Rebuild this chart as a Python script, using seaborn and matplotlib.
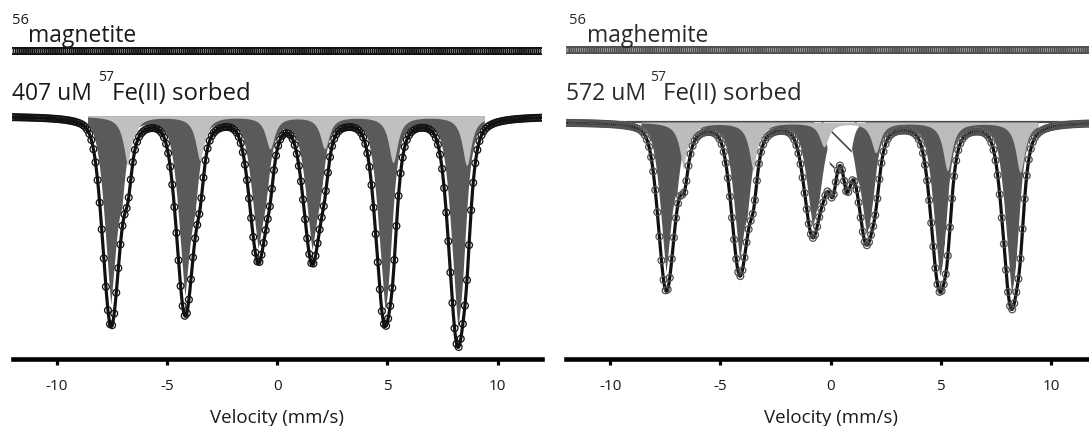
import numpy as np
import matplotlib
matplotlib.use("Agg")
import matplotlib.pyplot as plt
import matplotlib.patheffects as pe
import seaborn as sns

sns.set_theme(style="white")
plt.rcParams['font.family'] = ['Open Sans', 'DejaVu Sans']
plt.rcParams['hatch.linewidth'] = 1.1

# ---------------- data ----------------
# velocity channels of the spectrometer (mm/s)
N_CHANNELS = 256
V_RANGE = (-12.0, 12.0)

# left panel: 56-magnetite + 407 uM 57Fe(II)   (depths in % absorption)
left_dark_pos = [-7.53, -4.17, -0.86, 1.59, 4.87, 8.18]
left_dark_depth = [10.20, 9.60, 6.85, 6.95, 9.65, 10.80]
left_dark_fwhm = 0.90
left_light_pos = [-6.76, -3.49, -0.32, 2.16, 5.26, 8.60]
left_light_depth = [2.45, 2.20, 1.60, 1.60, 2.30, 2.45]
left_light_fwhm = 0.50

# right panel: 56-maghemite + 572 uM 57Fe(II)
right_dark_pos = [-7.45, -4.12, -0.82, 1.62, 4.92, 8.18]
right_dark_depth = [8.20, 7.25, 5.30, 5.50, 7.60, 8.60]
right_dark_fwhm = 0.86
right_light_pos = [-6.63, -3.49, -0.30, 2.05, 5.30, 8.60]
right_light_depth = [2.40, 2.40, 1.20, 1.50, 2.40, 2.50]
right_light_fwhm = 0.50
right_doublet_pos = [0.10, 0.74]
right_doublet_depth = [2.60, 2.55]
right_doublet_fwhm = 0.46

ETA_DARK = 0.30                # Lorentzian fraction of the line shapes
ETA_LIGHT = 1.00
ETA_DOUBLET = 0.50
FILL_RANGE = (-8.6, 9.4)       # velocity span of the shaded sub-spectra
ref_offset = [3.25, 3.6]       # vertical offset of the 56Fe reference spectra (%)

tick_values = [-10, -5, 0, 5, 10]
tick_labels = ["-10", "-5", "0", "5", "10"]

v = np.linspace(V_RANGE[0], V_RANGE[1], N_CHANNELS)
vf = np.linspace(V_RANGE[0], V_RANGE[1], 2400)


def line_shape(x, c, fwhm, eta):
    g = fwhm / 2.0
    lor = 1.0 / (1.0 + ((x - c) / g) ** 2)
    s = fwhm / (2.0 * np.sqrt(2.0 * np.log(2.0)))
    gau = np.exp(-0.5 * ((x - c) / s) ** 2)
    return eta * lor + (1 - eta) * gau


def component(x, pos, depth, fwhm, eta):
    out = np.zeros_like(x)
    for c, d in zip(pos, depth):
        out += d * line_shape(x, c, fwhm, eta)
    return out


W, H = 1089, 426
fig = plt.figure(figsize=(W / 100, H / 100), dpi=100)

ppu = 22.05     # pixels per mm/s
axis_y = 359    # pixel row of x axis line (from top)
k = 0.05        # % per pixel


def make_axes(left_px, baseline_px):
    ax = fig.add_axes([left_px / W, (H - axis_y) / H, 24 * ppu / W, axis_y / H])
    ax.set_xlim(-12, 12)
    ax.set_ylim(100 - (axis_y - baseline_px) * k, 100 + baseline_px * k)
    ax.set_facecolor('none')
    for s in ['left', 'right', 'top']:
        ax.spines[s].set_visible(False)
    ax.spines['bottom'].set_linewidth(3.3)
    ax.spines['bottom'].set_color('black')
    ax.set_yticks([])
    ax.set_xticks(tick_values)
    ax.set_xticklabels(tick_labels)
    ax.tick_params(axis='x', direction='out', length=4.5, width=2.3, color='black',
                   pad=10, labelsize=11, labelcolor='#1a1a1a', bottom=True)
    ax.set_xlabel("Velocity (mm/s)", fontsize=13.5, color='#1a1a1a', labelpad=11)
    return ax


def draw_panel(ax, dark, light, refoff, circ_col, dbl=None,
               dark_col='#5a5a5a', light_col='#c0c0c0', baseline_line=False):
    dark_f = component(vf, *dark, ETA_DARK)
    light_f = component(vf, *light, ETA_LIGHT)
    total_f = dark_f + light_f
    total_d = component(v, *dark, ETA_DARK) + component(v, *light, ETA_LIGHT)
    if dbl is not None:
        dbl_f = component(vf, *dbl, ETA_DOUBLET)
        total_f = total_f + dbl_f
        total_d = total_d + component(v, *dbl, ETA_DOUBLET)
    mask = (vf >= FILL_RANGE[0]) & (vf <= FILL_RANGE[1])
    if baseline_line:
        ax.plot([-12, 12], [100, 100], color='#4a4a4a', lw=1.6, zorder=0.5)
    ax.fill_between(vf, 100, 100 - dark_f, where=mask, color=dark_col, lw=0, zorder=1)
    if dbl is not None:
        m2 = mask & (dbl_f > 0.12)
        ax.fill_between(vf, 100, 100 - dbl_f, where=m2, facecolor='white',
                        edgecolor='#3a3a3a', hatch='\\', lw=0, zorder=1.5)
    ax.fill_between(vf, 100, 100 - light_f, where=mask, color=light_col, lw=0, zorder=2)
    sns.lineplot(x=vf, y=100 - total_f, ax=ax, color='#111111', lw=2.3, zorder=3,
                 path_effects=[pe.Stroke(linewidth=5.5, foreground='white'), pe.Normal()])
    sns.scatterplot(x=v, y=100 - total_d, ax=ax, marker='o', s=24, facecolor='none',
                    edgecolor=circ_col, linewidth=0.9, zorder=4)
    sns.scatterplot(x=v, y=np.full_like(v, 100 + refoff), ax=ax, marker='o', s=24,
                    facecolor='none', edgecolor=circ_col, linewidth=0.9, zorder=4)


axL = make_axes(12.5, 116)
draw_panel(axL, (left_dark_pos, left_dark_depth, left_dark_fwhm),
           (left_light_pos, left_light_depth, left_light_fwhm), ref_offset[0], '#111111')

axR = make_axes(566, 122)
draw_panel(axR, (right_dark_pos, right_dark_depth, right_dark_fwhm),
           (right_light_pos, right_light_depth, right_light_fwhm), ref_offset[1], '#505050',
           dbl=(right_doublet_pos, right_doublet_depth, right_doublet_fwhm),
           dark_col='#575757', light_col='#bcbcbc', baseline_line=True)


def ftext(x_px, base_px, s, size, color='#1a1a1a'):
    fig.text(x_px / W, (H - base_px) / H, s, fontsize=size, va='baseline', ha='left', color=color)


# panel labels
ftext(12, 24, "56", 10.5)
ftext(28, 42, "magnetite", 16.5)
ftext(12, 100, "407 uM", 16.5)
ftext(98, 81, "57", 10)
ftext(112, 100, "Fe(II) sorbed", 17.3)

ftext(569, 24, "56", 10.5, '#2a2a2a')
ftext(587, 42, "maghemite", 16.5, '#2a2a2a')
ftext(566, 100, "572 uM", 16.5, '#2a2a2a')
ftext(650, 81, "57", 10, '#2a2a2a')
ftext(663, 100, "Fe(II) sorbed", 17.3, '#2a2a2a')

fig.savefig("out.png", dpi=100)
